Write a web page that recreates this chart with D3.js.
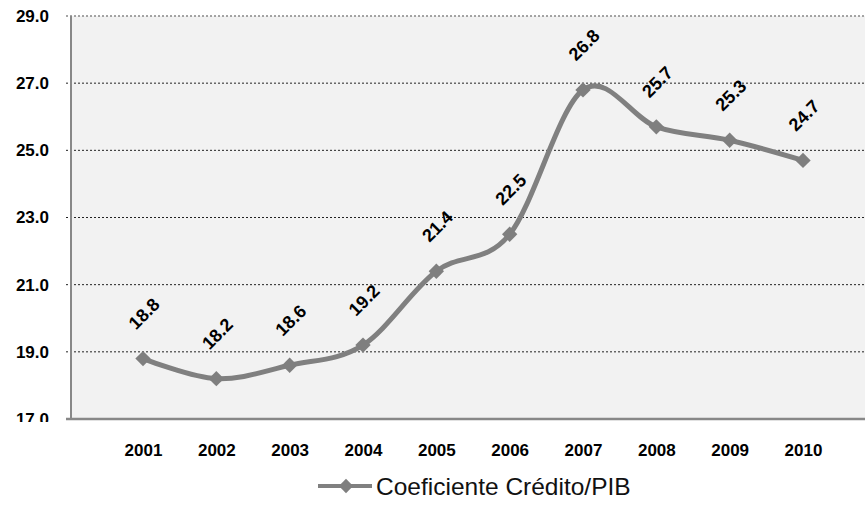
<!DOCTYPE html>
<html>
<head>
<meta charset="utf-8">
<script src="https://cdn.jsdelivr.net/npm/d3@7"></script>
<style>
    body { margin: 0; background: #fff; }
    text { font-family: "Liberation Sans", Arial, sans-serif; }
</style>
</head>
<body>
<div id="chart"></div>
<script>
// Chart data
const years = ['2001', '2002', '2003', '2004', '2005', '2006', '2007', '2008', '2009', '2010'];
const coeficiente = [18.8, 18.2, 18.6, 19.2, 21.4, 22.5, 26.8, 25.7, 25.3, 24.7];
const yTicks = [17, 19, 21, 23, 25, 27, 29];
const seriesName = 'Coeficiente Crédito/PIB';

const width = 865, height = 505;
const margin = { top: 16, right: 0, bottom: 86, left: 71 };
const innerW = width - margin.left - margin.right;
const innerH = height - margin.top - margin.bottom;

const svg = d3.select('#chart')
    .append('svg')
    .attr('width', width)
    .attr('height', height);

const g = svg.append('g')
    .attr('transform', `translate(${margin.left}, ${margin.top})`);

// Scales
const x = d3.scalePoint()
    .domain(years)
    .range([72, innerW - 62]);

const y = d3.scaleLinear()
    .domain([17, 29])
    .range([innerH, 0]);

// Plot background
g.append('rect')
    .attr('width', innerW)
    .attr('height', innerH)
    .attr('fill', '#f2f2f2');

// Gridlines
g.selectAll('.grid')
    .data(yTicks.filter(d => d > 17))
    .enter()
    .append('line')
    .attr('class', 'grid')
    .attr('x1', -5)
    .attr('x2', innerW)
    .attr('y1', d => y(d))
    .attr('y2', d => y(d))
    .attr('stroke', d => d === 29 ? '#888' : '#222')
    .attr('stroke-width', d => d === 29 ? 1.5 : 1)
    .attr('stroke-dasharray', '2,2');

// Axis lines
g.append('line')
    .attr('x1', 0).attr('x2', 0)
    .attr('y1', 0).attr('y2', innerH)
    .attr('stroke', '#888')
    .attr('stroke-width', 2);

g.append('line')
    .attr('x1', -5).attr('x2', innerW)
    .attr('y1', innerH).attr('y2', innerH)
    .attr('stroke', '#888')
    .attr('stroke-width', 2.5);

// Y axis labels (bottom one is clipped as in the original)
svg.append('clipPath')
    .attr('id', 'ylabclip')
    .append('rect')
    .attr('x', 0).attr('y', 0)
    .attr('width', margin.left)
    .attr('height', margin.top + innerH + 3);

const yAxis = d3.axisLeft(y)
    .tickValues(yTicks)
    .tickSize(0)
    .tickPadding(22)
    .tickFormat(d3.format('.1f'));

svg.append('g')
    .attr('clip-path', 'url(#ylabclip)')
    .append('g')
    .attr('transform', `translate(${margin.left}, ${margin.top})`)
    .call(yAxis)
    .call(a => a.select('.domain').remove())
    .selectAll('text')
    .attr('fill', '#000')
    .style('font-size', '17px')
    .style('font-weight', 'bold');

// X axis labels
g.append('g')
    .attr('transform', `translate(0, ${innerH})`)
    .call(d3.axisBottom(x).tickSize(0).tickPadding(25))
    .call(a => a.select('.domain').remove())
    .selectAll('text')
    .attr('fill', '#000')
    .style('font-size', '17px')
    .style('font-weight', 'bold');

// Smoothed line
const points = years.map((yr, i) => ({ year: yr, value: coeficiente[i] }));

const line = d3.line()
    .x(d => x(d.year))
    .y(d => y(d.value))
    .curve(d3.curveCardinal.tension(0));

g.append('path')
    .datum(points)
    .attr('d', line)
    .attr('fill', 'none')
    .attr('stroke', '#808080')
    .attr('stroke-width', 5)
    .attr('stroke-linejoin', 'round');

// Diamond markers
const diamond = d3.symbol().type(d3.symbolDiamond2).size(150);

g.selectAll('.marker')
    .data(points)
    .enter()
    .append('path')
    .attr('class', 'marker')
    .attr('d', diamond)
    .attr('transform', d => `translate(${x(d.year)}, ${y(d.value)})`)
    .attr('fill', '#7f7f7f');

// Value labels, rotated
g.selectAll('.value-label')
    .data(points)
    .enter()
    .append('text')
    .attr('class', 'value-label')
    .attr('transform', d => `translate(${x(d.year) + 1}, ${y(d.value) - 45}) rotate(-45)`)
    .attr('text-anchor', 'middle')
    .attr('dy', '0.35em')
    .style('font-size', '18px')
    .style('font-weight', 'bold')
    .attr('fill', '#000')
    .text(d => d.value.toFixed(1));

// Legend
const legend = svg.append('g')
    .attr('transform', `translate(318, 486)`);

legend.append('line')
    .attr('x1', 0).attr('x2', 54)
    .attr('y1', 0).attr('y2', 0)
    .attr('stroke', '#808080')
    .attr('stroke-width', 4);

legend.append('path')
    .attr('d', d3.symbol().type(d3.symbolDiamond2).size(130))
    .attr('transform', 'translate(28, 0)')
    .attr('fill', '#7f7f7f');

legend.append('text')
    .attr('x', 58)
    .attr('dy', '0.35em')
    .style('font-size', '24.5px')
    .attr('fill', '#111')
    .text(seriesName);
</script>
</body>
</html>
